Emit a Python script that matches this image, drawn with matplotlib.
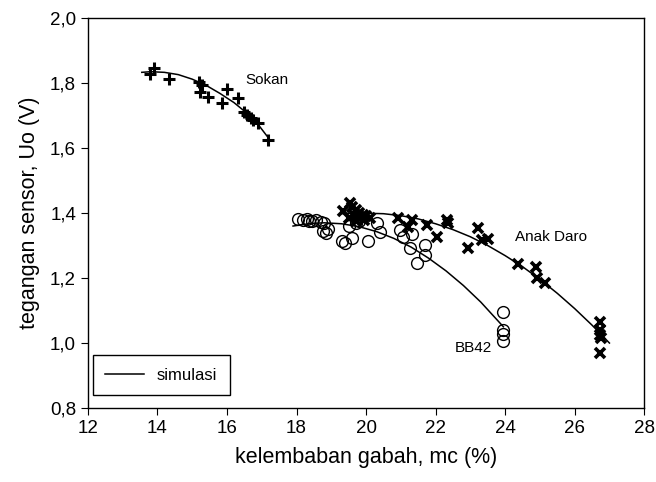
import matplotlib
matplotlib.use("Agg")
import matplotlib.pyplot as plt
from matplotlib.ticker import FuncFormatter, MultipleLocator

plt.rcParams["font.family"] = ["Liberation Sans", "DejaVu Sans"]

# measured points (moisture %, sensor voltage V)
sokan_x = [13.78, 13.90, 14.33, 15.20, 15.28, 15.22, 15.46, 15.99, 15.86, 16.31,
           16.49, 16.57, 16.68, 16.75, 16.90, 17.17]
sokan_y = [1.827, 1.845, 1.812, 1.802, 1.795, 1.773, 1.756, 1.782, 1.740, 1.755,
           1.712, 1.702, 1.693, 1.685, 1.676, 1.625]

daro_x = [19.35, 19.55, 19.60, 19.65, 19.70, 19.75, 19.80, 19.85, 19.90, 19.95,
          20.00, 19.50, 19.70, 20.10, 20.93, 21.31, 21.22, 21.75, 22.32, 22.36,
          22.03, 23.23, 23.33, 23.52, 22.94, 24.38, 24.89, 24.93, 25.15,
          26.73, 26.73, 26.73, 26.75, 26.73]
daro_y = [1.405, 1.430, 1.420, 1.395, 1.410, 1.390, 1.400, 1.385, 1.395, 1.380,
          1.390, 1.385, 1.375, 1.385, 1.384, 1.378, 1.358, 1.363, 1.378, 1.370,
          1.327, 1.353, 1.317, 1.319, 1.291, 1.242, 1.233, 1.199, 1.184,
          1.066, 1.040, 1.025, 1.015, 0.970]

bb42_x = [18.05, 18.20, 18.30, 18.45, 18.55, 18.70, 18.80, 18.35, 18.75, 18.85,
          18.90, 19.30, 19.40, 19.50, 19.60, 19.70, 19.80, 20.05, 20.40, 20.31,
          20.98, 21.07, 21.31, 21.27, 21.46, 21.70, 21.70,
          23.95, 23.95, 23.95, 23.95]
bb42_y = [1.383, 1.380, 1.382, 1.376, 1.378, 1.372, 1.368, 1.375, 1.345, 1.340,
          1.350, 1.315, 1.308, 1.360, 1.322, 1.370, 1.375, 1.315, 1.342, 1.368,
          1.348, 1.327, 1.337, 1.291, 1.245, 1.302, 1.271,
          1.096, 1.040, 1.028, 1.006]

# simulation curves
sim_sokan_x = [13.55, 13.8, 14.2, 14.6, 15.0, 15.4, 15.8, 16.2, 16.6, 16.9, 17.2]
sim_sokan_y = [1.833, 1.835, 1.833, 1.826, 1.812, 1.793, 1.768, 1.740, 1.705, 1.672, 1.630]
sim_daro_x = [19.3, 19.8, 20.5, 21.0, 21.5, 22.0, 22.5, 23.0, 23.5, 24.0,
              24.5, 25.0, 25.5, 26.0, 26.5, 27.0]
sim_daro_y = [1.398, 1.400, 1.398, 1.392, 1.382, 1.367, 1.349, 1.327, 1.300, 1.269,
              1.235, 1.196, 1.153, 1.106, 1.055, 1.000]
sim_bb42_x = [17.9, 18.4, 18.8, 19.3, 19.8, 20.3, 20.8, 21.3, 21.8, 22.3, 22.8, 23.3, 23.95]
sim_bb42_y = [1.360, 1.368, 1.370, 1.367, 1.358, 1.343, 1.322, 1.295, 1.261, 1.222,
              1.177, 1.126, 1.050]

fig = plt.figure(figsize=(6.56, 4.82), dpi=100)
ax = fig.add_axes([0.134, 0.1535, 0.848, 0.809])

line, = ax.plot(sim_sokan_x, sim_sokan_y, color="black", lw=1.1)
ax.plot(sim_daro_x, sim_daro_y, color="black", lw=1.1)
ax.plot(sim_bb42_x, sim_bb42_y, color="black", lw=1.1)

ax.plot(sokan_x, sokan_y, ls="none", marker="+", ms=8, mew=2.2, color="black")
ax.plot(daro_x, daro_y, ls="none", marker="x", ms=7, mew=2.6, color="black")
ax.plot(bb42_x, bb42_y, ls="none", marker="o", ms=8.5, mew=1.0,
        mfc="none", mec="black")

ax.text(16.52, 1.81, "Sokan", fontsize=11, va="center")
ax.text(24.29, 1.326, "Anak Daro", fontsize=11, va="center")
ax.text(22.56, 0.985, "BB42", fontsize=11, va="center")

ax.set_xlim(12, 28)
ax.set_ylim(0.8, 2.0)
ax.xaxis.set_major_locator(MultipleLocator(2))
ax.yaxis.set_major_locator(MultipleLocator(0.2))
ax.yaxis.set_major_formatter(FuncFormatter(lambda v, p: f"{v:.1f}".replace(".", ",")))
ax.tick_params(direction="out", length=5, labelsize=13.5, top=False, right=False)
for s in ax.spines.values():
    s.set_linewidth(1.0)

ax.set_xlabel("kelembaban gabah, mc (%)", fontsize=15.5, labelpad=7)
ax.set_ylabel("tegangan sensor, Uo (V)", fontsize=15.5, labelpad=7)

leg = ax.legend([line], ["simulasi"], loc="lower left", fontsize=12,
                fancybox=False, edgecolor="black", framealpha=1,
                borderpad=0.75, handlelength=2.3, handletextpad=0.8,
                borderaxespad=0.3, bbox_to_anchor=(0.0, 0.02))
leg.get_frame().set_linewidth(1.0)

fig.savefig("out.png", dpi=100)
